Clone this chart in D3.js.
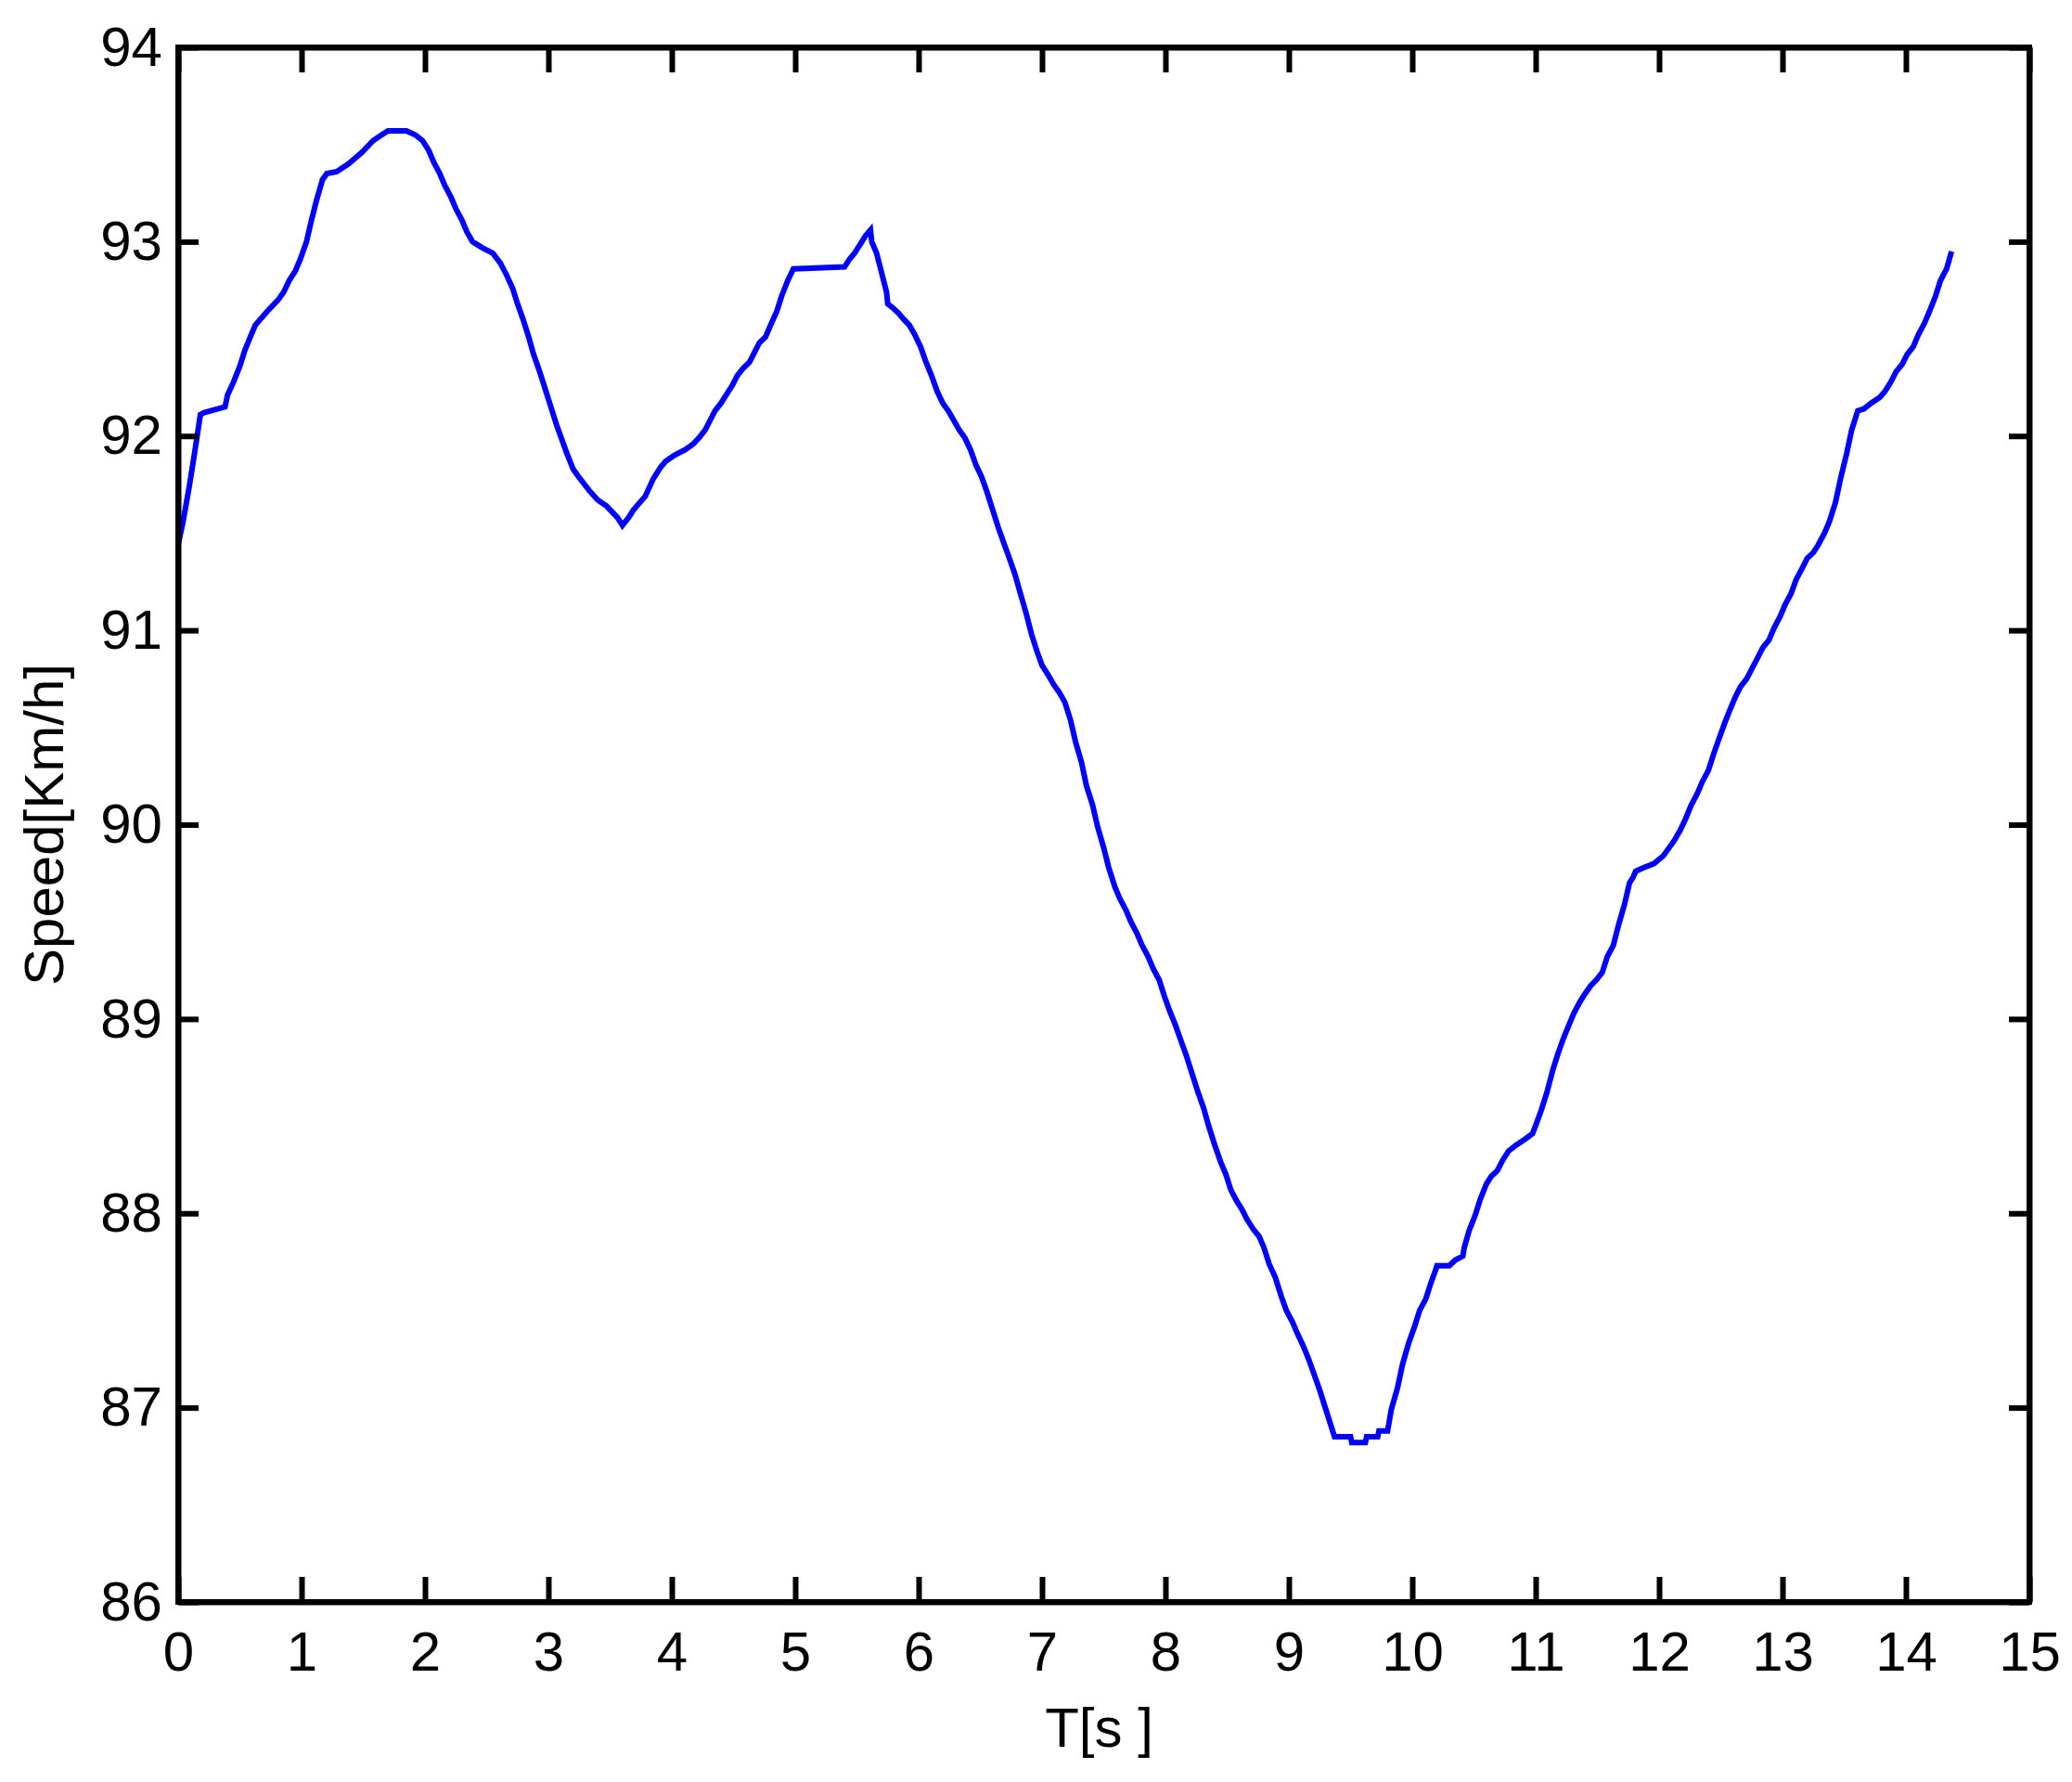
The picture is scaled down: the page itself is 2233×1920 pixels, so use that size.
<!DOCTYPE html>
<html>
<head>
<meta charset="utf-8">
<script src="https://cdn.jsdelivr.net/npm/d3@7"></script>
<style>
  body { margin: 0; background: #fff; }
  text { font-family: "Liberation Sans", Arial, sans-serif; fill: #000; }
</style>
</head>
<body>
<svg id="chart"></svg>
<script>
// Time samples [s]
const time = [
  0.00, 0.04, 0.09, 0.135, 0.18, 0.21, 0.38, 0.40, 0.45, 0.50, 0.54, 0.585, 0.625, 0.72, 0.81, 0.855,
  0.90, 0.95, 0.99, 1.04, 1.08, 1.12, 1.17, 1.205, 1.285, 1.38, 1.49, 1.58, 1.65, 1.70, 1.85, 1.92,
  1.98, 2.03, 2.07, 2.12, 2.16, 2.21, 2.25, 2.30, 2.34, 2.385, 2.46, 2.55, 2.61, 2.66, 2.71, 2.75,
  2.795, 2.84, 2.88, 2.93, 2.975, 3.02, 3.065, 3.11, 3.15, 3.20, 3.245, 3.33, 3.40, 3.47, 3.56, 3.60,
  3.65, 3.69, 3.785, 3.85, 3.91, 3.95, 4.02, 4.11, 4.175, 4.22, 4.27, 4.31, 4.35, 4.40, 4.45, 4.49,
  4.53, 4.58, 4.63, 4.67, 4.71, 4.76, 4.80, 4.85, 4.89, 4.94, 4.985, 5.40, 5.44, 5.48, 5.52, 5.57,
  5.61, 5.62, 5.66, 5.70, 5.74, 5.75, 5.79, 5.84, 5.88, 5.925, 5.97, 6.015, 6.06, 6.105, 6.15, 6.195,
  6.24, 6.285, 6.33, 6.375, 6.42, 6.465, 6.51, 6.555, 6.60, 6.645, 6.69, 6.73, 6.78, 6.82, 6.87, 6.915,
  6.96, 7.00, 7.05, 7.095, 7.14, 7.185, 7.23, 7.27, 7.32, 7.36, 7.41, 7.45, 7.50, 7.54, 7.59, 7.63,
  7.68, 7.72, 7.77, 7.81, 7.86, 7.90, 7.95, 7.99, 8.035, 8.08, 8.125, 8.17, 8.215, 8.26, 8.31, 8.35,
  8.40, 8.45, 8.49, 8.53, 8.58, 8.62, 8.66, 8.71, 8.76, 8.80, 8.84, 8.89, 8.94, 8.98, 9.03, 9.07,
  9.115, 9.16, 9.20, 9.25, 9.30, 9.34, 9.37, 9.50, 9.51, 9.62, 9.63, 9.72, 9.73, 9.80, 9.83, 9.88,
  9.92, 9.97, 10.02, 10.06, 10.11, 10.15, 10.19, 10.20, 10.30, 10.35, 10.41, 10.42, 10.46, 10.51, 10.55, 10.60,
  10.64, 10.69, 10.73, 10.78, 10.84, 10.91, 10.975, 11.005, 11.045, 11.09, 11.14, 11.18, 11.225, 11.27, 11.31, 11.36,
  11.40, 11.445, 11.49, 11.54, 11.58, 11.63, 11.67, 11.72, 11.76, 11.79, 11.81, 11.88, 11.96, 12.035, 12.08, 12.125,
  12.17, 12.215, 12.26, 12.31, 12.35, 12.40, 12.44, 12.49, 12.53, 12.58, 12.62, 12.66, 12.71, 12.75, 12.80, 12.84,
  12.89, 12.93, 12.98, 13.02, 13.07, 13.11, 13.16, 13.20, 13.25, 13.29, 13.34, 13.38, 13.43, 13.47, 13.52, 13.56,
  13.61, 13.66, 13.72, 13.79, 13.83, 13.88, 13.92, 13.97, 14.01, 14.06, 14.10, 14.15, 14.19, 14.24, 14.28, 14.33,
  14.37
];

// Speed [Km/h] at each time sample
const speed = [
  91.44, 91.56, 91.74, 91.92, 92.11, 92.12, 92.15, 92.21, 92.28, 92.36, 92.44, 92.51, 92.57, 92.64, 92.70, 92.74,
  92.80, 92.85, 92.91, 93.00, 93.11, 93.21, 93.32, 93.35, 93.36, 93.40, 93.46, 93.52, 93.55, 93.57, 93.57, 93.55,
  93.52, 93.47, 93.41, 93.35, 93.29, 93.23, 93.17, 93.11, 93.05, 93.00, 92.97, 92.94, 92.89, 92.83, 92.76, 92.68,
  92.60, 92.51, 92.42, 92.33, 92.24, 92.15, 92.06, 91.98, 91.91, 91.83, 91.79, 91.72, 91.67, 91.64, 91.58, 91.54,
  91.58, 91.62, 91.69, 91.78, 91.84, 91.87, 91.90, 91.93, 91.96, 91.99, 92.03, 92.08, 92.13, 92.17, 92.22, 92.26,
  92.31, 92.35, 92.38, 92.43, 92.48, 92.51, 92.57, 92.64, 92.72, 92.80, 92.86, 92.87, 92.91, 92.94, 92.98, 93.03,
  93.06, 93.00, 92.94, 92.84, 92.74, 92.68, 92.66, 92.63, 92.60, 92.57, 92.52, 92.46, 92.38, 92.31, 92.23, 92.17,
  92.13, 92.08, 92.03, 91.99, 91.93, 91.85, 91.79, 91.71, 91.62, 91.53, 91.45, 91.38, 91.29, 91.20, 91.09, 90.98,
  90.89, 90.82, 90.77, 90.72, 90.68, 90.63, 90.54, 90.43, 90.32, 90.20, 90.10, 89.99, 89.88, 89.78, 89.68, 89.62,
  89.56, 89.50, 89.44, 89.38, 89.32, 89.26, 89.20, 89.12, 89.04, 88.97, 88.89, 88.81, 88.72, 88.63, 88.54, 88.45,
  88.35, 88.26, 88.20, 88.12, 88.06, 88.02, 87.97, 87.92, 87.88, 87.82, 87.74, 87.67, 87.57, 87.50, 87.44, 87.38,
  87.32, 87.25, 87.18, 87.09, 86.99, 86.91, 86.85, 86.85, 86.82, 86.82, 86.85, 86.85, 86.88, 86.88, 86.99, 87.10,
  87.22, 87.33, 87.42, 87.50, 87.56, 87.64, 87.71, 87.73, 87.73, 87.76, 87.78, 87.82, 87.91, 87.99, 88.07, 88.15,
  88.19, 88.22, 88.27, 88.32, 88.35, 88.38, 88.41, 88.46, 88.53, 88.62, 88.74, 88.82, 88.90, 88.97, 89.03, 89.09,
  89.13, 89.17, 89.20, 89.24, 89.32, 89.38, 89.48, 89.59, 89.70, 89.73, 89.76, 89.78, 89.80, 89.84, 89.88, 89.92,
  89.97, 90.03, 90.10, 90.16, 90.22, 90.28, 90.36, 90.45, 90.52, 90.60, 90.66, 90.71, 90.75, 90.80, 90.86, 90.91,
  90.95, 91.01, 91.07, 91.13, 91.19, 91.26, 91.32, 91.37, 91.40, 91.44, 91.50, 91.56, 91.66, 91.78, 91.91, 92.03,
  92.13, 92.14, 92.17, 92.20, 92.23, 92.28, 92.33, 92.37, 92.42, 92.46, 92.52, 92.58, 92.64, 92.72, 92.80, 92.86,
  92.95
];

// Tick values
const xTicks = d3.range(0, 16);          // 0 .. 15
const yTicks = d3.range(86, 95);         // 86 .. 94
const xLabel = 'T[s ]';
const yLabel = 'Speed[Km/h]';

const width = 2233;
const height = 1920;
const margin = { top: 51, right: 46, bottom: 194, left: 192 };
const innerW = width - margin.left - margin.right;
const innerH = height - margin.top - margin.bottom;

const svg = d3.select('#chart')
  .attr('width', width)
  .attr('height', height);

const g = svg.append('g')
  .attr('transform', `translate(${margin.left},${margin.top})`);

// Scales
const xScale = d3.scaleLinear().domain([0, 15]).range([0, innerW]);
const yScale = d3.scaleLinear().domain([86, 94]).range([innerH, 0]);

// Curve (drawn first so the frame sits on top)
const data = time.map((t, i) => ({ t, v: speed[i] }));
const line = d3.line()
  .x(d => xScale(d.t))
  .y(d => yScale(d.v));

g.append('path')
  .datum(data)
  .attr('fill', 'none')
  .attr('stroke', '#0000ff')
  .attr('stroke-width', 6)
  .attr('stroke-linejoin', 'miter')
  .attr('d', line);

// Axes: ticks point inward on all four sides (boxed plot)
const styleAxis = sel => {
  sel.select('.domain').attr('stroke', '#000').attr('stroke-width', 6);
  sel.selectAll('.tick line').attr('stroke', '#000').attr('stroke-width', 6);
  sel.selectAll('.tick text').attr('font-size', 60).attr('fill', '#000');
};

g.append('g')
  .attr('transform', `translate(0,${innerH})`)
  .call(d3.axisBottom(xScale).tickValues(xTicks).tickFormat(d3.format('d'))
    .tickSizeInner(-27).tickSizeOuter(0).tickPadding(31))
  .call(styleAxis);

g.append('g')
  .call(d3.axisTop(xScale).tickValues(xTicks).tickFormat('')
    .tickSizeInner(-27).tickSizeOuter(0))
  .call(styleAxis);

g.append('g')
  .call(d3.axisLeft(yScale).tickValues(yTicks).tickFormat(d3.format('d'))
    .tickSizeInner(-22).tickSizeOuter(0).tickPadding(17))
  .call(styleAxis);

g.append('g')
  .attr('transform', `translate(${innerW},0)`)
  .call(d3.axisRight(yScale).tickValues(yTicks).tickFormat('')
    .tickSizeInner(-22).tickSizeOuter(0))
  .call(styleAxis);

// Close the frame corners
g.append('rect')
  .attr('width', innerW)
  .attr('height', innerH)
  .attr('fill', 'none')
  .attr('stroke', '#000')
  .attr('stroke-width', 6);

// Axis titles
svg.append('text')
  .attr('x', margin.left + innerW / 2 - 5)
  .attr('y', 1882)
  .attr('text-anchor', 'middle')
  .attr('font-size', 60)
  .text(xLabel);

svg.append('text')
  .attr('transform', `translate(68,${margin.top + innerH / 2}) rotate(-90)`)
  .attr('text-anchor', 'middle')
  .attr('font-size', 60)
  .text(yLabel);
</script>
</body>
</html>
